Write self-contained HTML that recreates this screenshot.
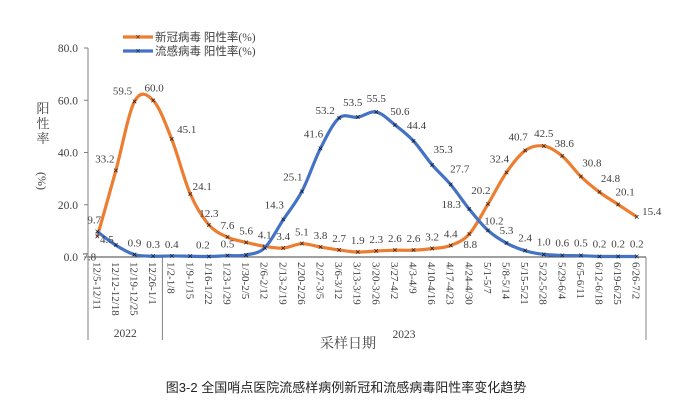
<!DOCTYPE html>
<html><head><meta charset="utf-8"><style>
body{margin:0;background:#fff;}
svg text{font-family:"Liberation Serif","Noto Serif CJK SC",serif;fill:#404040;}
</style></head><body>
<svg width="693" height="404" viewBox="0 0 693 404">
<g id="axes"></g><g id="series"></g><g id="labels"></g>
<text x="346" y="392" text-anchor="middle" font-size="13" style="font-family:'Liberation Sans','Noto Sans CJK SC',sans-serif;fill:#222">图3-2 全国哨点医院流感样病例新冠和流感病毒阳性率变化趋势</text>
</svg>
<script>
const categories=["12/5-12/11","12/12-12/18","12/19-12/25","12/26-1/1","1/2-1/8","1/9-1/15","1/16-1/22","1/23-1/29","1/30-2/5","2/6-2/12","2/13-2/19","2/20-2/26","2/27-3/5","3/6-3/12","3/13-3/19","3/20-3/26","3/27-4/2","4/3-4/9","4/10-4/16","4/17-4/23","4/24-4/30","5/1-5/7","5/8-5/14","5/15-5/21","5/22-5/28","5/29-6/4","6/5-6/11","6/12-6/18","6/19-6/25","6/26-7/2"];
const covidValues=[7.8,33.2,59.5,60.0,45.1,24.1,12.3,7.6,5.6,4.1,3.4,5.1,3.8,2.7,1.9,2.3,2.6,2.6,3.2,4.4,8.8,20.2,32.4,40.7,42.5,38.6,30.8,24.8,20.1,15.4];
const fluValues=[9.7,4.5,0.9,0.3,0.4,0.3,0.2,0.5,0.8,3.5,14.3,25.1,41.6,53.2,53.5,55.5,50.6,44.4,35.3,27.7,18.3,10.2,5.3,2.4,1.0,0.6,0.5,0.2,0.2,0.2];
const fluLabelShown=[1,1,1,1,1,0,1,1,0,0,1,1,1,1,1,1,1,1,1,1,1,1,1,1,1,1,1,1,1,1];
const yTicks=[0,20,40,60,80];
const years=[{label:"2022",from:0,to:4},{label:"2023",from:4,to:30}];
const NS="http://www.w3.org/2000/svg";
const L=88,R=646,T=48,B=257;
const step=(R-L)/categories.length;
const x=i=>L+step*(i+0.5);
const y=v=>B-(v/80)*(B-T);
function mk(tag,attrs,parent,txt){const e=document.createElementNS(NS,tag);for(const k in attrs)e.setAttribute(k,attrs[k]);if(txt!==undefined)e.textContent=txt;parent.appendChild(e);return e;}
const ax=document.getElementById('axes'),se=document.getElementById('series'),lb=document.getElementById('labels');
let e=mk('line',{x1:L,y1:T,x2:L,y2:B,stroke:'#808080'},ax);


e=mk('line',{x1:L,y1:B,x2:R,y2:B,stroke:'#404040'},ax);


yTicks.forEach(v=>{
 mk('line',{x1:L-4,y1:y(v),x2:L,y2:y(v),stroke:'#808080'},ax);
 const t=mk('text',{x:L-10,y:y(v)+4,'text-anchor':'end','font-size':11.5},ax,v.toFixed(1));
 
 
});
categories.forEach((c,i)=>{
 const t=mk('text',{transform:`translate(${x(i)-4},${B+5}) rotate(90)`,'font-size':11},ax,c);
 
 
});
years.forEach(yr=>{
 const x0=L+step*yr.from;
 mk('line',{x1:x0,y1:B,x2:x0,y2:340,stroke:'#808080'},ax);
 if(yr.to===categories.length) mk('line',{x1:R,y1:B,x2:R,y2:340,stroke:'#808080'},ax);
 const cx=yr.to===categories.length?404:(x0+L+step*yr.to)/2;
 const t=mk('text',{x:cx,y:yr.to===categories.length?338:337,'text-anchor':'middle','font-size':11.5},ax,yr.label);
 
 
});
e=mk('text',{x:348,y:348,'text-anchor':'middle','font-size':14},ax,'采样日期');


const yt=mk('g',{},ax);


['阳','性','率'].forEach((ch,i)=>mk('text',{x:43,y:113+i*15,'text-anchor':'middle','font-size':13},yt,ch));
mk('text',{transform:'translate(38,172) rotate(90)','font-size':12},yt,'(%)');
function path(vals){
 const p=vals.map((v,i)=>[x(i),y(v)]);let d=`M${p[0][0]},${p[0][1]}`;
 for(let i=0;i<p.length-1;i++){const p0=p[i-1]||p[i],p1=p[i],p2=p[i+1],p3=p[i+2]||p2;
  d+=` C${p1[0]+(p2[0]-p0[0])/6},${p1[1]+(p2[1]-p0[1])/6} ${p2[0]-(p3[0]-p1[0])/6},${p2[1]-(p3[1]-p1[1])/6} ${p2[0]},${p2[1]}`;}
 return d;}
function series(vals,color,name,labelFn,shown){
 const g=mk('g',{},se);
 
 
 mk('path',{d:path(vals),fill:'none',stroke:color,'stroke-width':3.2},g);
 vals.forEach((v,i)=>{
  const m=mk('text',{x:x(i),y:y(v)+3,'text-anchor':'middle','font-size':9,style:'fill:#111;font-family:Liberation Sans,sans-serif'},g,'×');
  
  
  if(shown&&!shown[i])return;
  const [dx,dy]=labelFn(v,i);
  const t=mk('text',{x:x(i)+dx,y:y(v)+dy,'text-anchor':'middle','font-size':11},lb,v.toFixed(1));
  
  
 });
}
series(covidValues,'#ED7D31','covid-series',(v,i)=>{
 if(i===0)return[-8,24];
 if(i===1)return[-11,-8];
 if(i===2)return[-12,-7];
 if(i===3)return[1,-9];
 if(i===4)return[15,-6];
 if(i===5)return[12,-4];
 if(i===20)return[1,14];
 if(i>=21&&i<=23)return[-7,-10];
 if(i===24)return[0,-9];
 if(i===25)return[2,-9];
 if(i===26||i===27)return[11,-10];
 if(i===28)return[7,-9];
 if(i===29)return[15,-2];
 return[0,-8];},null);
series(fluValues,'#4472C4','flu-series',(v,i)=>{
 if(i===0)return[-3,-8];
 if(i===1)return[-9,-2];
 if(i===6)return[-6,-8];
 if(i<=8)return[0,-8];
 if(i===10||i===11)return[-9,-11];
 if(i===12)return[-7,-11];
 if(i===13)return[-14,-4];
 if(i===14)return[-5,-11];
 if(i===15)return[0,-10];
 if(i===16)return[5,-10];
 if(i===17)return[3,-12];
 if(i===18)return[11,-12];
 if(i===19)return[9,-12];
 if(i===20)return[-18,-1];
 if(i===21)return[6,-6];
 return[0,-9];},fluLabelShown);
[['新冠病毒 阳性率(%)','#ED7D31',37],['流感病毒 阳性率(%)','#4472C4',51]].forEach(([t,c,yy],k)=>{
 const g=mk('g',{},ax);
 
 
 mk('line',{x1:123,y1:yy,x2:153,y2:yy,stroke:c,'stroke-width':3.2},g);
 mk('text',{x:138,y:yy+3,'text-anchor':'middle','font-size':9,style:'fill:#111'},g,'×');
 mk('text',{x:155,y:yy+4,'font-size':11.5,style:'font-family:Liberation Serif,Noto Sans CJK SC,serif'},g,t);
});
</script>
</body></html>
